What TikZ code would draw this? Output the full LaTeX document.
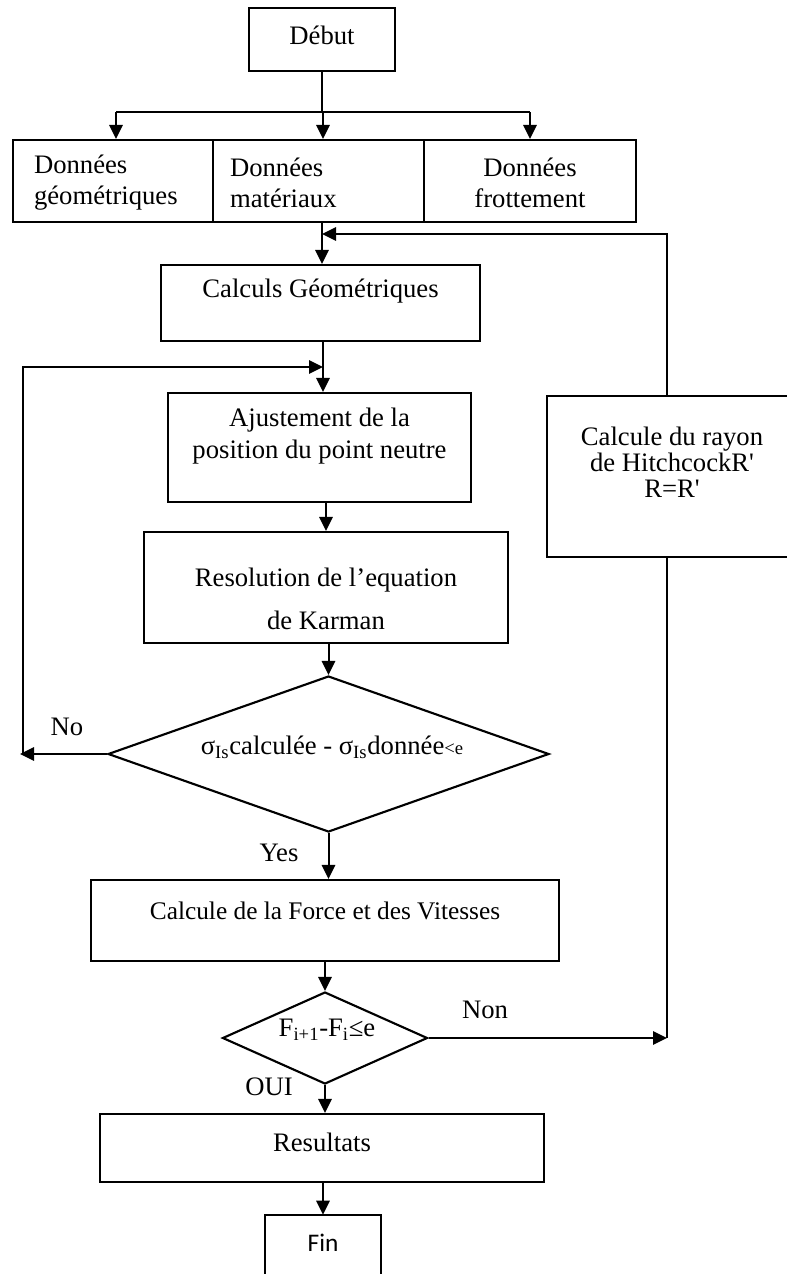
\documentclass[tikz,border=0pt]{standalone}
\usepackage{fontspec}
\setmainfont{Liberation Serif}[Ligatures=TeXOff]
\newfontfamily\finfont{Carlito}
\usetikzlibrary{shapes.geometric,arrows.meta}
\begin{document}
\begin{tikzpicture}[x=0.75pt,y=-0.75pt,
  every node/.style={font=\fontsize{20pt}{23.25pt}\selectfont},
  box/.style={draw, line width=1.6pt, inner sep=0pt},
  dia/.style={diamond, draw, line width=1.6pt, inner sep=0pt},
  lbl/.style={inner sep=0pt, align=center},
  ln/.style={line width=1.5pt},
  arr/.style={line width=1.5pt, -{Triangle[length=10.5pt,width=10pt]}}]
\useasboundingbox (0,0) rectangle (787,1274);

% boxes
\node[box, minimum width=109.5pt, minimum height=47.25pt] (debut) at (322,39.5) {};
\node[lbl] (debutt) at (322,35) {Début};

\node[box, minimum width=150pt, minimum height=61.5pt] (d1) at (113,181) {};
\node[lbl, align=left, text width=118.5pt] (d1t) at (113,182.5) {Données\\géométriques};
\node[box, minimum width=158.25pt, minimum height=61.5pt] (d2) at (318.5,181) {};
\node[lbl, align=left, text width=132.75pt] (d2t) at (318.5,182.5) {Données\\matériaux};
\node[box, minimum width=159pt, minimum height=61.5pt] (d3) at (530,181) {};
\node[lbl] (d3t) at (530,182.5) {Données\\frottement};

\node[box, minimum width=239.25pt, minimum height=57pt] (calc) at (320.5,303) {};
\node[lbl] (calct) at (320.5,291) {Calculs Géométriques};

\node[box, minimum width=227.25pt, minimum height=81.75pt] (ajust) at (319.5,447.5) {};
\node[lbl, font=\fontsize{20pt}{24pt}\selectfont] (ajustt) at (319.5,436) {Ajustement de la\\position du point neutre};

\node[box, minimum width=273pt, minimum height=83.25pt] (resol) at (326,587.5) {};
\node[lbl, font=\fontsize{20pt}{32.25pt}\selectfont] (resolt) at (326,598.5) {Resolution de l’equation\\de Karman};

\node[box, minimum width=187.5pt, minimum height=120.75pt] (rayon) at (672,476.5) {};
\node[lbl, font=\fontsize{20pt}{19.5pt}\selectfont] (rayont) at (672,462) {Calcule du rayon\\de HitchcockR'\\R=R'};

\node[dia, minimum width=330.75pt, minimum height=117pt] (sig) at (328.5,754) {};
\node[lbl] (sigt) at (332,747) {σ\textsubscript{Is}calculée - σ\textsubscript{Is}donnée{\fontsize{14pt}{14pt}\selectfont<e}};

\node[box, minimum width=351pt, minimum height=60.75pt] (force) at (325,920.5) {};
\node[lbl, font=\fontsize{19pt}{22pt}\selectfont] (forcet) at (325,911) {Calcule de la Force et des Vitesses};

\node[dia, minimum width=153.75pt, minimum height=69pt] (dia2) at (325,1038) {};
\node[lbl] (dia2t) at (327,1030) {F\textsubscript{i+1}-F\textsubscript{i}≤e};

\node[box, minimum width=333pt, minimum height=51pt] (result) at (322,1148) {};
\node[lbl] (resultt) at (322,1142) {Resultats};

\node[inner sep=0pt, minimum width=87pt, minimum height=44.25pt] (fin) at (323,1244.5) {};
\node[lbl, font=\finfont\fontsize{19pt}{22pt}\selectfont] (fint) at (323,1243) {Fin};
\draw[ln] ([yshift=-6pt]fin.south west) -- (fin.north west) -- (fin.north east) -- ([yshift=-6pt]fin.south east);

% branch labels
\node[lbl] (no) at (67,727) {No};
\node[lbl] (yes) at (279,853) {Yes};
\node[lbl] (non) at (485,1010) {Non};
\node[lbl] (oui) at (269,1087) {OUI};

% connectors
\coordinate (bus) at (323,112);
\coordinate (busL) at (116,112);
\coordinate (busR) at (530,112);
\draw[ln] (debut.south) -- (debut.south |- bus);
\draw[ln] (busL) -- (busR);
\draw[arr] (busL) -- (busL |- d1.north);
\draw[arr] (bus) -- (bus |- d2.north);
\draw[arr] (busR) -- (busR |- d3.north);

\coordinate (j1) at (322,234);
\coordinate (rtop) at (667,234);
\draw[ln] (j1 |- d2.south) -- (j1);
\draw[arr] (j1) -- (j1 |- calc.north);
\draw[arr] (rtop |- rayon.north) -- (rtop) -- (j1);

\coordinate (j2) at (323,367);
\coordinate (notop) at (23,367);
\coordinate (nocorner) at (23,754);
\coordinate (noend) at (20,754);
\draw[ln] (j2 |- calc.south) -- (j2);
\draw[arr] (j2) -- (j2 |- ajust.north);
\draw[arr] (sig.west) -- (noend);
\draw[arr] (nocorner) -- (notop) -- (j2);

\draw[arr] (ajust.south -| resol.north) -- (resol.north);
\draw[arr] (resol.south -| sig.north) -- (sig.north);
\draw[arr] (sig.south) -- (sig.south |- force.north);
\draw[arr] (force.south -| dia2.north) -- (dia2.north);

\coordinate (rbot) at (667,1038);
\draw[arr] (dia2.east) -- (rbot);
\draw[ln] (rbot |- rayon.south) -- (rbot);
\draw[arr] (dia2.south) -- (dia2.south |- result.north);
\draw[arr] (result.south -| fin.north) -- (fin.north);
\end{tikzpicture}
\end{document}
